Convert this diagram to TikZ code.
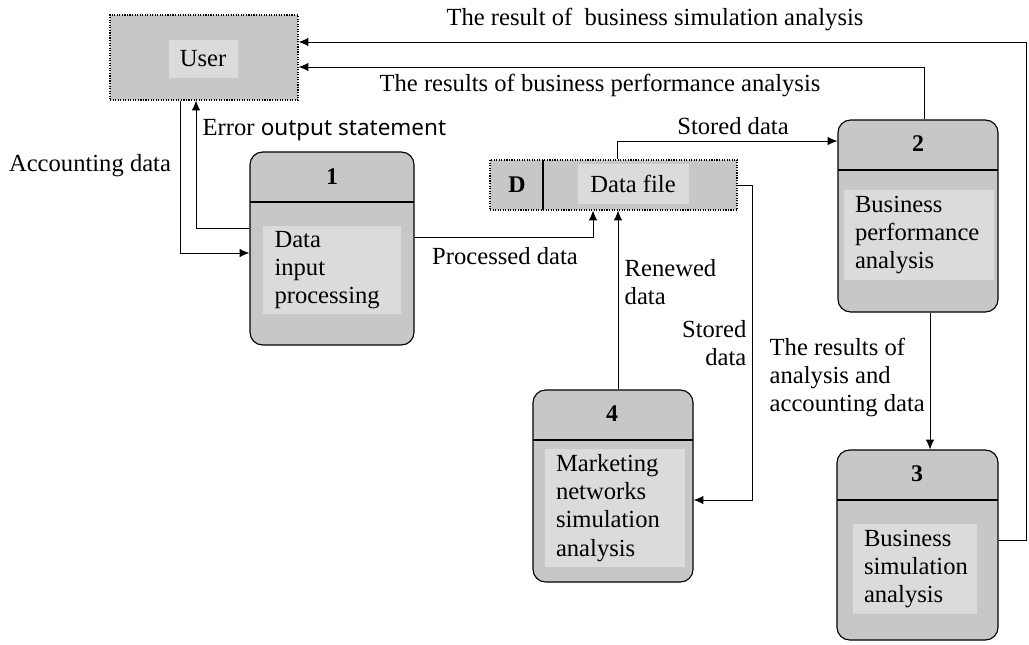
\documentclass[tikz,border=0pt]{standalone}
\usepackage{fontspec}
\setmainfont{Liberation Serif}
\newfontfamily\gothic{Noto Sans}
\usetikzlibrary{arrows.meta}

\definecolor{boxfill}{gray}{0.78}
\definecolor{txtfill}{gray}{0.86}

\tikzset{
    box/.style={draw, thick, densely dotted, fill=boxfill, inner sep=0pt},
    proc/.style={box, solid, rounded corners=9pt},
    txt/.style={fill=txtfill, align=left, inner xsep=8pt, inner ysep=4pt},
    num/.style={font=\fontsize{17}{20}\selectfont\bfseries},
    lbl/.style={inner sep=1pt},
    flow/.style={->, semithick},
}

\begin{document}
\begin{tikzpicture}[x=0.025cm, y=-0.025cm, >={Latex[length=7pt,width=6pt]},
    font=\fontsize{17.5}{20}\selectfont]

    % Unit: one pixel of the reference
    \def\px{0.025cm}
    \useasboundingbox (0,0) rectangle (1029,644);

    % External entity
    \node[box, minimum width=188*\px, minimum height=85*\px] (user) at (204,57.5) {};
    \node[fill=txtfill, minimum width=69*\px, minimum height=38*\px, inner sep=0pt] (userlbl) at (203,59) {User};

    % Data store
    \node[box, minimum width=247*\px, minimum height=50*\px] (file) at (613.5,185) {};
    \draw[thick] (543,160) -- (543,210);
    \node[num] (filenum) at (517,185) {D};
    \node[fill=txtfill, minimum width=111*\px, minimum height=40*\px, inner sep=0pt] (filelbl) at (633,184) {Data file};

    % Processes
    \node[proc, minimum width=164*\px, minimum height=193*\px] (p1) at (332,248.5) {};
    \draw[thick] (250,202) -- (414,202);
    \node[num] (p1num) at (332,177) {1};
    \node[txt, text width=115*\px] (p1txt) at (332,270) {Data\\input\\processing};

    \node[proc, minimum width=160*\px, minimum height=192*\px] (p2) at (918,216) {};
    \draw[thick] (838,170) -- (998,170);
    \node[num] (p2num) at (918,144) {2};
    \node[txt, text width=128*\px] (p2txt) at (919,235) {Business\\performance\\analysis};

    \node[proc, minimum width=161*\px, minimum height=190*\px] (p3) at (917.5,545) {};
    \draw[thick] (837,500) -- (998,500);
    \node[num] (p3num) at (917,474) {3};
    \node[txt, text width=102*\px] (p3txt) at (915,569) {Business\\simulation\\analysis};

    \node[proc, minimum width=160*\px, minimum height=192*\px] (p4) at (613,486) {};
    \draw[thick] (533,440) -- (693,440);
    \node[num] (p4num) at (612,414) {4};
    \node[txt, text width=118*\px] (p4txt) at (615,508) {Marketing\\networks\\simulation\\analysis};

    % Bend points
    \coordinate (accx) at (180,0);
    \coordinate (errx) at (196,0);
    \coordinate (errl) at (0,228);
    \coordinate (accl) at (0,253);
    \coordinate (procy) at (0,237);
    \coordinate (procx) at (593,0);
    \coordinate (renx) at (618,0);
    \coordinate (stox) at (752,0);
    \coordinate (stoy) at (0,500);
    \coordinate (topx) at (617,0);
    \coordinate (topy) at (0,141);
    \coordinate (perfx) at (924,0);
    \coordinate (perfy) at (0,67);
    \coordinate (simx) at (1026,0);
    \coordinate (simy) at (0,42);
    \coordinate (siml) at (0,540);
    \coordinate (downx) at (930,0);

    % Flows
    \draw[flow] (user.south -| accx) |- (p1.west |- accl);
    \draw[flow] (p1.west |- errl) -| (user.south -| errx);
    \draw[flow] (p1.east |- procy) -| (file.south -| procx);
    \draw[flow] (p4.north -| renx) -- (file.south -| renx);
    \draw[flow] (file.east) -| (stox |- stoy) -- (p4.east |- stoy);
    \draw[flow] (file.north -| topx) |- (p2.west |- topy);
    \draw[flow] (p2.north -| perfx) |- (user.east |- perfy);
    \draw[flow] (p3.east |- siml) -| (simx |- simy) -- (user.east |- simy);
    \draw[flow] (p2.south -| downx) -- (p3.north -| downx);

    % Flow labels
    \node[lbl] (simlbl) at (655,19) {The result of\ \ business simulation analysis};
    \node[lbl] (perflbl) at (600,85) {The results of business performance analysis};
    \node[lbl, anchor=west] (errlbl) at (201,130) {Error {\gothic\fontsize{16}{18}\selectfont output statement}};
    \node[lbl] (acclbl) at (90,166) {Accounting data};
    \node[lbl] (toplbl) at (733,126) {Stored data};
    \node[lbl] (proclbl) at (505,256) {Processed data};
    \node[lbl, anchor=north west, align=left] (renlbl) at (623,258) {Renewed\\data};
    \node[lbl, anchor=north east, align=right] (stolbl) at (748,319) {Stored\\data};
    \node[lbl, anchor=north west, align=left] (downlbl) at (768,336) {The results of\\analysis and\\accounting data};

\end{tikzpicture}
\end{document}
